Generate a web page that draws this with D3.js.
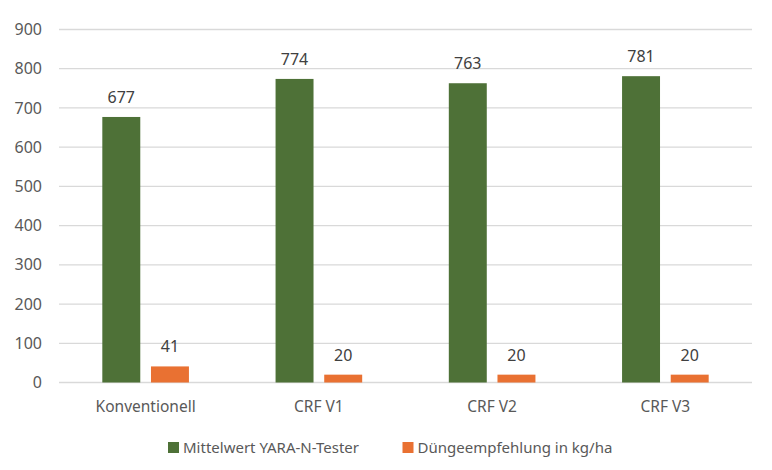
<!DOCTYPE html>
<html lang="de">
<head>
    <meta charset="UTF-8" />
    <title>YARA-N-Tester</title>
    <script src="https://d3js.org/d3.v7.min.js"></script>
    <style>
        body { margin: 0; background: #fff; }
    </style>
</head>
<body>
    <div id="chart"></div>
    <script>
        const categories = ["Konventionell", "CRF V1", "CRF V2", "CRF V3"]
        const seriesNames = ["Mittelwert YARA-N-Tester", "Düngeempfehlung in kg/ha"]
        const mittelwert = [677, 774, 763, 781]
        const duenge = [41, 20, 20, 20]
        const yTicks = [0, 100, 200, 300, 400, 500, 600, 700, 800, 900]

        const colors = ["#4e7137", "#e97132"]
        const width = 772
        const height = 470
        const margin = { top: 29.5, right: 20, bottom: 87.5, left: 59 }
        const font = "'Noto Sans', 'Open Sans', sans-serif"

        const data = categories.map((c, i) => ({ name: c, values: [mittelwert[i], duenge[i]] }))

        const x0 = d3.scaleBand()
            .domain(categories)
            .range([margin.left, width - margin.right])
            .paddingInner(0.5)
            .paddingOuter(0.25)

        const x1 = d3.scaleBand()
            .domain(d3.range(seriesNames.length))
            .range([0, x0.bandwidth()])
            .paddingInner(0.22)

        const y = d3.scaleLinear()
            .domain([0, 900])
            .range([height - margin.bottom, margin.top])

        const svg = d3.select("#chart").append("svg")
            .attr("width", width)
            .attr("height", height)
            .attr("font-family", font)

        // gridlines
        svg.append("g")
            .selectAll("line")
            .data(yTicks)
            .join("line")
            .attr("x1", margin.left)
            .attr("x2", width - margin.right)
            .attr("y1", d => y(d))
            .attr("y2", d => y(d))
            .attr("stroke", "#d9d9d9")
            .attr("stroke-width", 1.3)

        // y axis labels
        const yAxis = d3.axisLeft(y).tickValues(yTicks).tickSize(0).tickPadding(17)
        svg.append("g")
            .attr("transform", `translate(${margin.left},0)`)
            .call(yAxis)
            .call(g => g.select(".domain").remove())
            .call(g => g.selectAll("text")
                .attr("font-family", font)
                .attr("font-size", 16)
                .attr("fill", "#595959"))

        // x axis labels
        const xAxis = d3.axisBottom(x0).tickSize(0).tickPadding(18)
        svg.append("g")
            .attr("transform", `translate(0,${y(0)})`)
            .call(xAxis)
            .call(g => g.select(".domain").remove())
            .call(g => g.selectAll("text")
                .attr("font-family", font)
                .attr("font-size", 15.5)
                .attr("fill", "#595959"))

        const groups = svg.append("g")
            .selectAll("g")
            .data(data)
            .join("g")
            .attr("transform", d => `translate(${x0(d.name)},0)`)

        groups.selectAll("rect")
            .data(d => d.values)
            .join("rect")
            .attr("x", (d, i) => x1(i))
            .attr("y", d => y(d))
            .attr("width", x1.bandwidth())
            .attr("height", d => y(0) - y(d))
            .attr("fill", (d, i) => colors[i])

        groups.selectAll("text")
            .data(d => d.values)
            .join("text")
            .attr("x", (d, i) => x1(i) + x1.bandwidth() / 2)
            .attr("y", d => y(d) - 14)
            .attr("text-anchor", "middle")
            .attr("font-size", 16)
            .attr("fill", "#404040")
            .text(d => d)

        // legend
        const legendX = [168, 402.5]
        const legend = svg.append("g")
            .selectAll("g")
            .data(seriesNames)
            .join("g")
            .attr("transform", (d, i) => `translate(${legendX[i]},442)`)

        legend.append("rect")
            .attr("width", 11)
            .attr("height", 11)
            .attr("fill", (d, i) => colors[i])

        legend.append("text")
            .attr("x", 15)
            .attr("y", 10.5)
            .attr("font-size", 15)
            .attr("fill", "#595959")
            .text(d => d)
    </script>
</body>
</html>
